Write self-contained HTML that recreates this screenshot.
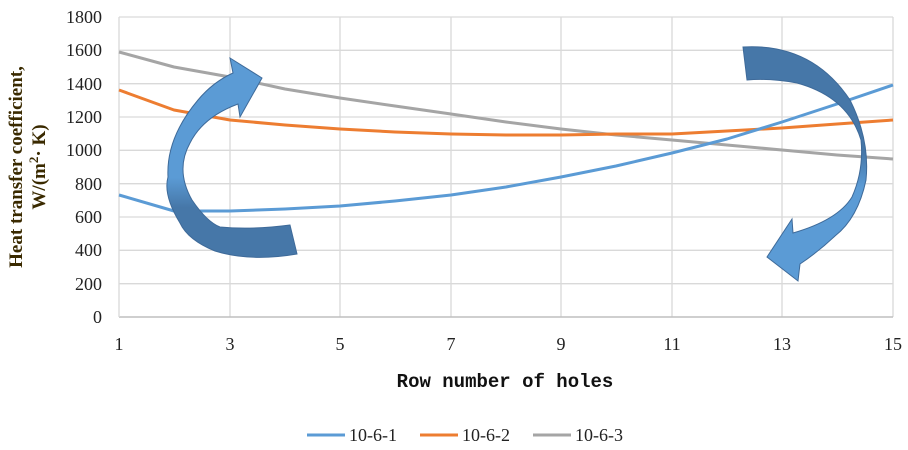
<!DOCTYPE html>
<html><head><meta charset="utf-8"><style>body{margin:0;background:#fff}svg{display:block}</style></head><body>
<svg width="908" height="450" xmlns="http://www.w3.org/2000/svg" font-family="Liberation Serif, serif">
<defs>
<linearGradient id="gl" x1="0" y1="0" x2="0" y2="1"><stop offset="0" stop-color="#5b9bd5"/><stop offset="0.6" stop-color="#5b9bd5"/><stop offset="0.75" stop-color="#4677a8"/><stop offset="1" stop-color="#4677a8"/></linearGradient>
<linearGradient id="gr" x1="0" y1="0" x2="0" y2="1"><stop offset="0" stop-color="#4677a8"/><stop offset="0.45" stop-color="#4677a8"/><stop offset="0.6" stop-color="#5b9bd5"/><stop offset="1" stop-color="#5b9bd5"/></linearGradient>
</defs>
<g stroke="#d9d9d9" stroke-width="1.3">
<line x1="119" y1="17" x2="893" y2="17"/><line x1="119" y1="50.3" x2="893" y2="50.3"/><line x1="119" y1="83.7" x2="893" y2="83.7"/><line x1="119" y1="117" x2="893" y2="117"/><line x1="119" y1="150.3" x2="893" y2="150.3"/><line x1="119" y1="183.7" x2="893" y2="183.7"/><line x1="119" y1="217" x2="893" y2="217"/><line x1="119" y1="250.3" x2="893" y2="250.3"/><line x1="119" y1="283.7" x2="893" y2="283.7"/>
<line x1="230" y1="17" x2="230" y2="317"/><line x1="340" y1="17" x2="340" y2="317"/><line x1="451" y1="17" x2="451" y2="317"/><line x1="561" y1="17" x2="561" y2="317"/><line x1="672" y1="17" x2="672" y2="317"/><line x1="782" y1="17" x2="782" y2="317"/><line x1="893" y1="17" x2="893" y2="317"/>
</g>
<line x1="119" y1="317" x2="893" y2="317" stroke="#bfbfbf" stroke-width="1.5"/>
<line x1="119" y1="17" x2="119" y2="317" stroke="#d9d9d9" stroke-width="1.3"/>
<g font-size="18" fill="#222" text-anchor="end">
<text x="102" y="23">1800</text><text x="102" y="56">1600</text><text x="102" y="90">1400</text><text x="102" y="123">1200</text><text x="102" y="156">1000</text><text x="102" y="190">800</text><text x="102" y="223">600</text><text x="102" y="256">400</text><text x="102" y="290">200</text><text x="102" y="323">0</text>
</g>
<g font-size="18" fill="#222" text-anchor="middle">
<text x="119" y="350">1</text><text x="230" y="350">3</text><text x="340" y="350">5</text><text x="451" y="350">7</text><text x="561" y="350">9</text><text x="672" y="350">11</text><text x="782" y="350">13</text><text x="893" y="350">15</text>
</g>
<text x="505" y="387" font-family="Liberation Mono, monospace" font-weight="bold" font-size="19" text-anchor="middle" fill="#111">Row number of holes</text>
<g transform="translate(22,167) rotate(-90)" font-weight="bold" font-size="19" fill="#3a2a00" text-anchor="middle">
<text x="0" y="0">Heat transfer coefficient,</text>
<text x="0" y="23">W/(m<tspan font-size="13" dy="-7">2</tspan><tspan dy="7">· K)</tspan></text>
</g>
<g fill="none" stroke-width="3" stroke-linejoin="round">
<polyline stroke="#a5a5a5" points="119,52 174,67 230,77 285,89 340,98 395,106 451,114 506,122 561,129 616,135 672,140 727,145 782,150 837,155 893,159"/>
<polyline stroke="#ed7d31" points="119,90 174,110 230,120 285,125 340,129 395,132 451,134 506,135 561,135 616,134 672,134 727,131 782,128 837,124 893,120"/>
<polyline stroke="#5b9bd5" points="119,195 174,211 230,211 285,209 340,206 395,201 451,195 506,187 561,177 616,166 672,153 727,139 782,122 837,104 893,85"/>
</g>
<path d="M230,58 L262,78 L240,117 L238,104 Q203,117 190,143 Q175,170 192,200 Q207,222 220,227 Q252,230 290,225 L297,254 Q250,262 215,251 Q188,240 180,223 Q163,195 168,177 Q166,138 198,100 Q213,82 233,73 Z" fill="url(#gl)" stroke="#3e6a99" stroke-width="1"/>
<path d="M743,47 Q812,43 850,100 Q870,140 866,180 Q858,218 835,236 Q818,252 800,264 L798,281 L767,257 L792,219 L793,233 Q838,220 852,197 Q864,170 861,140 Q848,97 797,83 Q770,78 747,80 Z" fill="url(#gr)" stroke="#3e6a99" stroke-width="1"/>
<g font-size="18" fill="#222">
<line x1="307" y1="435" x2="345" y2="435" stroke="#5b9bd5" stroke-width="3"/><text x="349" y="441">10-6-1</text>
<line x1="420" y1="435" x2="458" y2="435" stroke="#ed7d31" stroke-width="3"/><text x="462" y="441">10-6-2</text>
<line x1="533" y1="435" x2="571" y2="435" stroke="#a5a5a5" stroke-width="3"/><text x="575" y="441">10-6-3</text>
</g>
</svg>
</body></html>
